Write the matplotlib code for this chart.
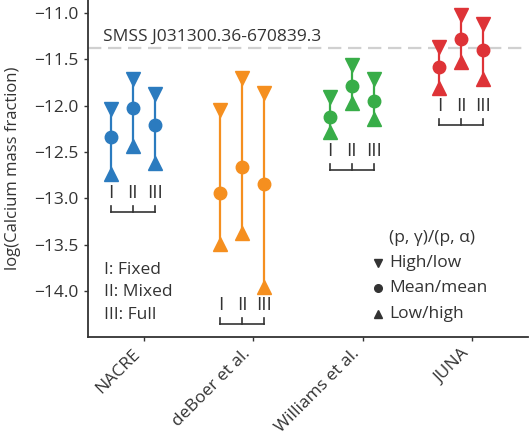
import matplotlib
matplotlib.use("Agg")
import matplotlib.pyplot as plt

plt.rcParams['font.family'] = ['Open Sans', 'DejaVu Sans']

datasets = ["NACRE", "deBoer et al.", "Williams et al.", "JUNA"]
colors = ["#2b7bbf", "#f58f1f", "#38ad48", "#de3337"]
variants = ["I", "II", "III"]
offsets = [-0.3, -0.1, 0.1]

# high/low, mean/mean, low/high per dataset, per variant (I, II, III)
high = [[-12.04, -11.71, -11.88],
        [-12.05, -11.70, -11.87],
        [-11.91, -11.56, -11.72],
        [-11.37, -11.03, -11.12]]
mean = [[-12.34, -12.03, -12.21],
        [-12.94, -12.66, -12.84],
        [-12.12, -11.79, -11.95],
        [-11.59, -11.28, -11.40]]
low = [[-12.74, -12.43, -12.62],
       [-13.49, -13.37, -13.95],
       [-12.29, -11.97, -12.15],
       [-11.81, -11.53, -11.71]]

star_value = -11.38
star_name = "SMSS J031300.36-670839.3"
variant_legend = ["I: Fixed", "II: Mixed", "III: Full"]
marker_legend_title = "(p, γ)/(p, α)"
marker_legend = [("v", "High/low"), ("o", "Mean/mean"), ("^", "Low/high")]

txt = "#333333"
fs = 12.5

fig = plt.figure(figsize=(5.29, 4.36), dpi=100)
ax = fig.add_axes([0.166, 0.227, 0.832, 0.773])

ax.axhline(star_value, color="#d0d0d0", lw=1.6, ls=(0, (6, 3)), zorder=1)
ax.text(-0.373, star_value + 0.12, star_name, color=txt, fontsize=fs,
        va="center", ha="left")

for i, ds in enumerate(datasets):
    c = colors[i]
    for j, off in enumerate(offsets):
        x = i + off
        ax.plot([x, x], [high[i][j], low[i][j]], color=c, lw=1.6, zorder=2)
        ax.plot(x, high[i][j], marker="v", ms=10, color=c, ls="none", zorder=3)
        ax.plot(x, mean[i][j], marker="o", ms=9, color=c, ls="none", zorder=3)
        ax.plot(x, low[i][j], marker="^", ms=10, color=c, ls="none", zorder=3)
    ymin = min(low[i])
    ylab = ymin - 0.2
    ybr = ymin - 0.4
    for j, off in enumerate(offsets):
        ax.text(i + off, ylab, variants[j], color=txt, fontsize=fs + 1,
                ha="center", va="center")
        ax.plot([i + off, i + off], [ybr, ybr + 0.06], color=txt, lw=1.2)
    ax.plot([i + offsets[0], i + offsets[-1]], [ybr, ybr], color=txt, lw=1.2)

# variant legend
for k, s in enumerate(variant_legend):
    ax.text(-0.364, -13.77 - 0.24 * k, s, color=txt, fontsize=fs,
            ha="left", va="center")

# marker legend
ax.text(2.245, -13.42, marker_legend_title, color=txt, fontsize=fs,
        ha="left", va="center")
for k, (m, s) in enumerate(marker_legend):
    yy = -13.69 - 0.275 * k
    ax.plot(2.136, yy, marker=m, ms=5.5, color=txt, ls="none")
    ax.text(2.245, yy, s, color=txt, fontsize=fs, ha="left", va="center")

ax.set_xlim(-0.51, 3.51)
ax.set_ylim(-14.49, -10.865)
ax.set_xticks(range(len(datasets)))
ax.set_xticklabels(datasets, rotation=45, ha="right", fontsize=fs, color=txt)
ax.set_yticks([-11.0, -11.5, -12.0, -12.5, -13.0, -13.5, -14.0])
ax.set_yticklabels(["\u221211.0", "\u221211.5", "\u221212.0", "\u221212.5",
                    "\u221213.0", "\u221213.5", "\u221214.0"], fontsize=fs, color=txt)
ax.set_ylabel("log(Calcium mass fraction)", fontsize=fs - 0.5, color=txt)
ax.yaxis.set_label_coords(-0.152, 0.5)

for sp in ["top", "right"]:
    ax.spines[sp].set_visible(False)
for sp in ["left", "bottom"]:
    ax.spines[sp].set_color(txt)
    ax.spines[sp].set_linewidth(1.3)
ax.tick_params(axis="both", colors=txt, width=1.0, length=3)

fig.savefig("out.png", dpi=100)
